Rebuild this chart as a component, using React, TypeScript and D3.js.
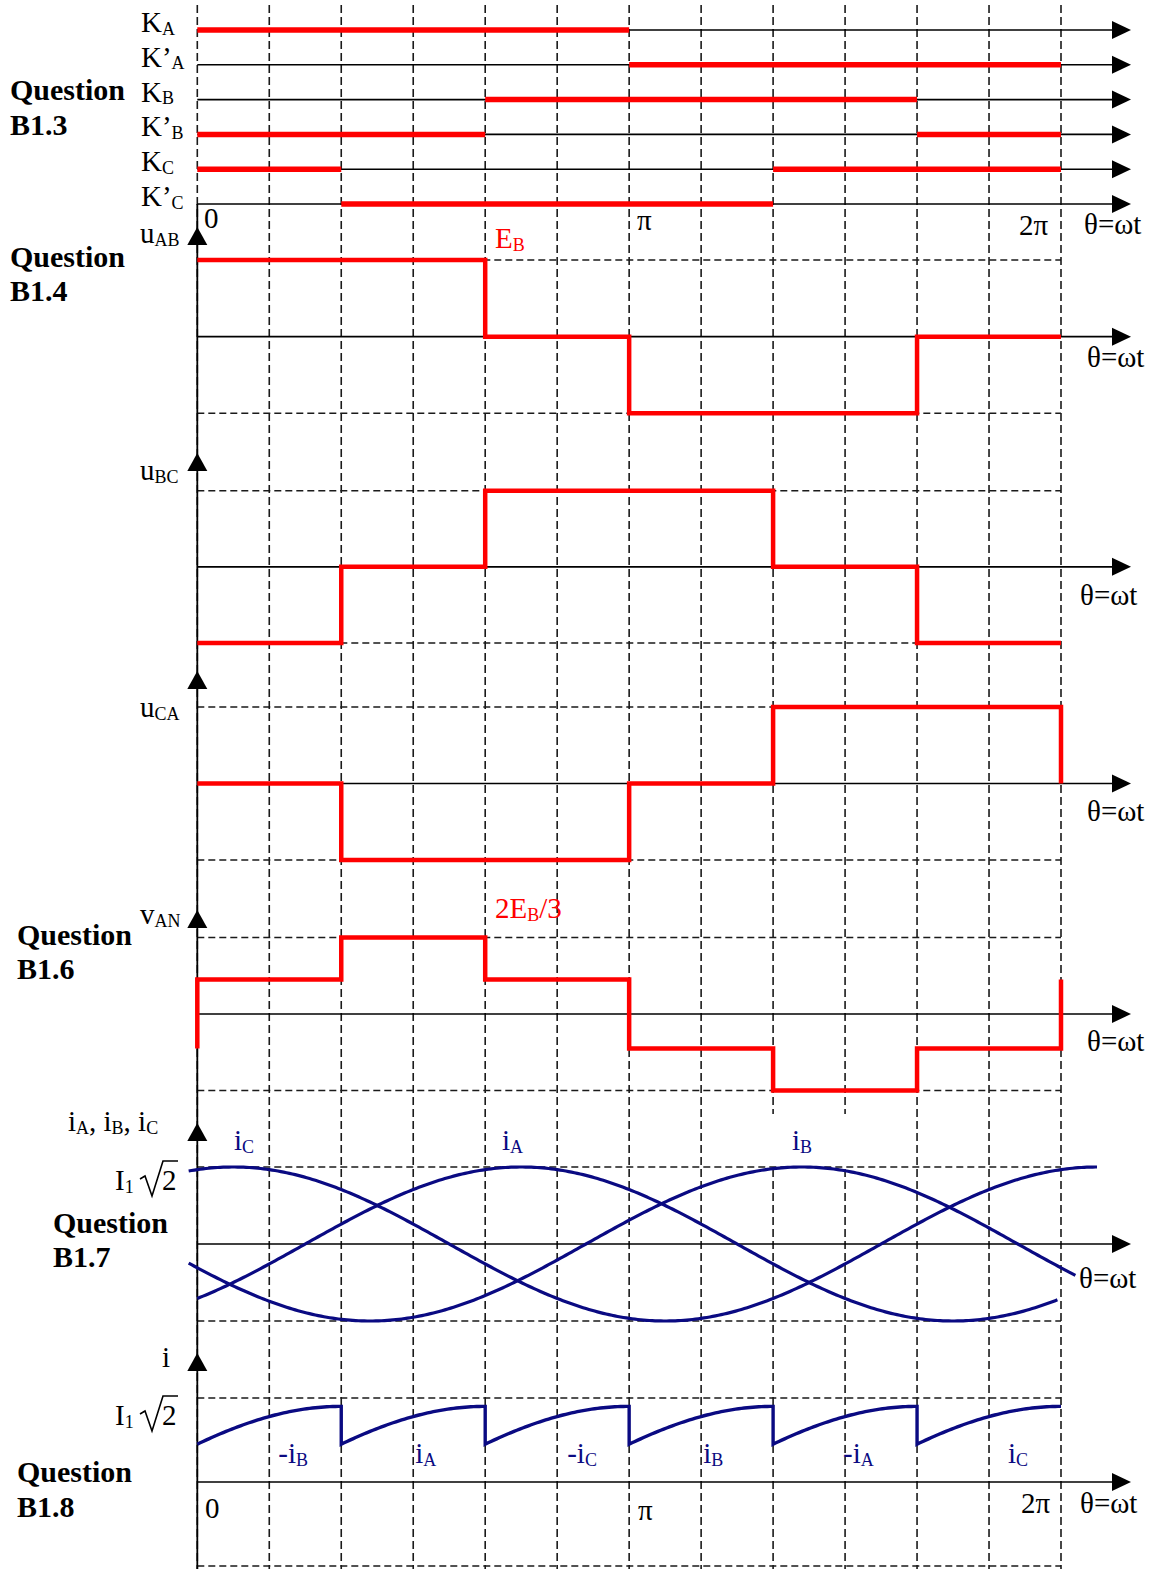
import React from "react";
import * as d3 from "d3";

const W = 1155;
const H = 1569;
const FONT = '"Liberation Serif", "Times New Roman", Times, serif';
const RED = "#ff0000";
const NAVY = "#0a0a82";
const INK = "#000";
const TXT = 29;
const QTXT = 30;

// one period split into 12 steps of π/6
const gridSteps = d3.range(0, 13);

// switch conduction intervals, in units of π/6
const switchLabels: [string, string][] = [
  ["K", "A"], ["K’", "A"], ["K", "B"], ["K’", "B"], ["K", "C"], ["K’", "C"],
];
const switchOn: number[][][] = [
  [[0, 6]],
  [[6, 12]],
  [[4, 10]],
  [[0, 4], [10, 12]],
  [[0, 2], [8, 12]],
  [[2, 8]],
];

// six 60° sectors (start, in π/6 units) and the levels of each voltage
const sectorStart = [0, 2, 4, 6, 8, 10];
const uABLevels = [1, 1, 0, -1, -1, 0]; // × E_B
const uBCLevels = [-1, 0, 1, 1, 0, -1]; // × E_B
const uCALevels = [0, -1, -1, 0, 1, 1]; // × E_B
const vANLevels = [0.3, 2 / 3, 0.3, -0.3, -2 / 3, -0.3]; // × E_B

// phase currents: angle of the positive peak (degrees) and drawn span (π/6 units)
const currentPhases = ["A", "B", "C"];
const currentPeakDeg = [135, 252, 15];
const currentSpan: [number, number][] = [[0, 11.95], [-0.12, 12.2], [-0.12, 12.5]];

// DC-side current: one piece per sector, the conducting phase and its sign
const dcPieceSign = ["-", "", "-", "", "-", ""];
const dcPiecePhase = ["B", "A", "C", "B", "A", "C"];
const dcPieceArcDeg: [number, number] = [30, 90];
const dcPeak = 0.9; // × I1√2

const x = d3.scaleLinear().domain([0, 12]).range([197.3, 1061]);
const AXIS_END = 1131;

type Part = [string, string?];

function Label({
  x: lx, y: ly, parts, size = TXT, fill = INK, weight = "normal",
}: { x: number; y: number; parts: Part[]; size?: number; fill?: string; weight?: string }) {
  const subDy = 2.5;
  return (
    <text x={lx} y={ly} fontSize={size} fill={fill} fontFamily={FONT} fontWeight={weight}>
      {parts.map(([m, s], i) => (
        <React.Fragment key={i}>
          <tspan dy={i > 0 && parts[i - 1][1] ? -subDy : 0}>{m}</tspan>
          {s ? (
            <tspan fontSize={size * 0.62} dy={subDy}>{s}</tspan>
          ) : null}
        </React.Fragment>
      ))}
    </text>
  );
}

function Root2({ x: rx, y: ry }: { x: number; y: number }) {
  const p = d3.path();
  p.moveTo(rx + 25, ry - 11);
  p.lineTo(rx + 30, ry - 14);
  p.lineTo(rx + 37, ry + 6);
  p.lineTo(rx + 48, ry - 29);
  p.lineTo(rx + 63, ry - 29);
  return (
    <g>
      <Label x={rx} y={ry} parts={[["I", "1"]]} />
      <path d={p.toString()} fill="none" stroke={INK} strokeWidth={1.6} />
      <text x={rx + 47} y={ry} fontSize={TXT} fontFamily={FONT}>2</text>
    </g>
  );
}

function HAxis({ y }: { y: number }) {
  return (
    <g>
      <line x1={x(0)} x2={AXIS_END - 16} y1={y} y2={y} stroke={INK} strokeWidth={1.6} />
      <path d={`M${AXIS_END},${y} L${AXIS_END - 19},${y - 9} L${AXIS_END - 19},${y + 9} Z`} fill={INK} />
    </g>
  );
}

function VArrow({ tip }: { tip: number }) {
  const cx = x(0);
  return <path d={`M${cx},${tip} L${cx - 10},${tip + 18} L${cx + 10},${tip + 18} Z`} fill={INK} />;
}

function DashH({ y }: { y: number }) {
  return (
    <line x1={x(0)} x2={x(12)} y1={y} y2={y} stroke="#1a1a1a" strokeWidth={1.6} strokeDasharray="7,4" />
  );
}

function stepPoints(levels: number[], wrapStart: boolean, wrapEnd: boolean): [number, number][] {
  const pts: [number, number][] = [];
  if (wrapStart) pts.push([0, levels[levels.length - 1]]);
  levels.forEach((v, i) => pts.push([sectorStart[i], v]));
  pts.push([12, levels[levels.length - 1]]);
  if (wrapEnd) pts.push([12, levels[0]]);
  return pts;
}

export default function App() {
  const rowY = d3.scalePoint<string>().domain(switchLabels.map((_, i) => String(i))).range([30, 204]);

  const yAB = d3.scaleLinear().domain([-1, 1]).range([413.3, 260]);
  const yBC = d3.scaleLinear().domain([-1, 1]).range([643, 490.7]);
  const yCA = d3.scaleLinear().domain([-1, 1]).range([860, 707]);
  const yAN = d3.scaleLinear().domain([-2 / 3, 2 / 3]).range([1090.5, 937.5]);
  const yI = d3.scaleLinear().domain([-1, 1]).range([1321, 1167]);
  const yDC = d3.scaleLinear().domain([0, 1]).range([1482, 1398]);

  const stepLine = (ys: d3.ScaleLinear<number, number>) =>
    d3.line<[number, number]>().x((d) => x(d[0])).y((d) => ys(d[1])).curve(d3.curveStepAfter);

  const smooth = (ys: d3.ScaleLinear<number, number>) =>
    d3.line<[number, number]>().x((d) => x(d[0])).y((d) => ys(d[1]));

  const voltagePanels = [
    { levels: uABLevels, ys: yAB, ws: false, we: false },
    { levels: uBCLevels, ys: yBC, ws: false, we: false },
    { levels: uCALevels, ys: yCA, ws: false, we: true },
    { levels: vANLevels, ys: yAN, ws: true, we: true },
  ];

  const currentPaths = currentPhases.map((_, k) => {
    const [a, b] = currentSpan[k];
    const pts: [number, number][] = d3
      .range(a, b, 0.04)
      .concat([b])
      .map((t) => [t, Math.cos(((t * 30 - currentPeakDeg[k]) * Math.PI) / 180)]);
    return smooth(yI)(pts) as string;
  });

  const dcPts: [number, number][] = [];
  sectorStart.forEach((s) => {
    d3.range(0, 2.0001, 0.04).forEach((u) => {
      const deg = dcPieceArcDeg[0] + (u / 2) * (dcPieceArcDeg[1] - dcPieceArcDeg[0]);
      dcPts.push([s + u, dcPeak * Math.sin((deg * Math.PI) / 180)]);
    });
  });

  const dcLabelNudge = [9, 2, 10, 2, -2, 19];
  const thetaParts: Part[] = [["θ=ωt"]];

  return (
    <svg
      width={W}
      height={H}
      viewBox={`0 0 ${W} ${H}`}
      style={{ position: "absolute", left: 0, top: 0, background: "#fff", display: "block" }}
    >
      <rect width={W} height={H} fill="#fff" />

      {/* vertical grid every π/6 */}
      {gridSteps.map((k) => (
        <line key={k} x1={x(k)} x2={x(k)} y1={5} y2={H} stroke="#1a1a1a" strokeWidth={1.6} strokeDasharray="8,4" />
      ))}
      <rect x={766} y={1114} width={84} height={51} fill="#fff" />

      {/* dashed level lines */}
      {[yAB, yBC, yCA].map((ys, i) => (
        <g key={i}>
          <DashH y={ys(1)} />
          <DashH y={ys(-1)} />
        </g>
      ))}
      <DashH y={yAN(2 / 3)} />
      <DashH y={yAN(-2 / 3)} />
      <DashH y={yI(1)} />
      <DashH y={yI(-1)} />
      <DashH y={yDC(1)} />
      <DashH y={1566} />

      {/* vertical axis */}
      <line x1={x(0)} x2={x(0)} y1={rowY("5")} y2={H} stroke={INK} strokeWidth={1.8} />
      {[227, 453, 671, 910, 1123, 1353].map((t) => (
        <VArrow key={t} tip={t} />
      ))}

      {/* switch states */}
      {switchLabels.map((lab, i) => {
        const y = rowY(String(i)) as number;
        return (
          <g key={i}>
            <HAxis y={y} />
            {switchOn[i].map(([a, b], j) => (
              <line key={j} x1={x(a)} x2={x(b)} y1={y} y2={y} stroke={RED} strokeWidth={5.5} />
            ))}
            <Label x={141} y={y + 2} parts={[[lab[0], lab[1]]]} />
          </g>
        );
      })}

      {/* voltage waveforms */}
      {voltagePanels.map((p, i) => (
        <g key={i}>
          <HAxis y={p.ys(0)} />
          <path
            d={stepLine(p.ys)(stepPoints(p.levels, p.ws, p.we)) as string}
            fill="none"
            stroke={RED}
            strokeWidth={4.5}
            strokeLinejoin="miter"
          />
        </g>
      ))}

      {/* phase currents */}
      <HAxis y={yI(0)} />
      {currentPaths.map((d, i) => (
        <path key={i} d={d} fill="none" stroke={NAVY} strokeWidth={3.2} />
      ))}

      {/* DC-side current */}
      <HAxis y={yDC(0)} />
      <path d={smooth(yDC)(dcPts) as string} fill="none" stroke={NAVY} strokeWidth={3.4} />

      {/* texts */}
      <Label x={10} y={100} parts={[["Question"]]} size={QTXT} weight="bold" />
      <Label x={10} y={135} parts={[["B1.3"]]} size={QTXT} weight="bold" />
      <Label x={204} y={228} parts={[["0"]]} />
      <Label x={637} y={230} parts={[["π"]]} />
      <Label x={1019} y={235} parts={[["2π"]]} />
      <Label x={1084} y={234} parts={thetaParts} />

      <Label x={140} y={243} parts={[["u", "AB"]]} />
      <Label x={495} y={248} parts={[["E", "B"]]} fill={RED} />
      <Label x={10} y={267} parts={[["Question"]]} size={QTXT} weight="bold" />
      <Label x={10} y={301} parts={[["B1.4"]]} size={QTXT} weight="bold" />
      <Label x={1087} y={367} parts={thetaParts} />

      <Label x={140} y={480} parts={[["u", "BC"]]} />
      <Label x={1080} y={605} parts={thetaParts} />

      <Label x={140} y={717} parts={[["u", "CA"]]} />
      <Label x={1087} y={821} parts={thetaParts} />

      <Label x={140} y={924} parts={[["v", "AN"]]} />
      <Label x={495} y={918} parts={[["2E", "B"], ["/3"]]} fill={RED} />
      <Label x={17} y={945} parts={[["Question"]]} size={QTXT} weight="bold" />
      <Label x={17} y={979} parts={[["B1.6"]]} size={QTXT} weight="bold" />
      <Label x={1087} y={1051} parts={thetaParts} />

      <Label x={68} y={1131} parts={[["i", "A"], [", i", "B"], [", i", "C"]]} />
      <Root2 x={115} y={1190} />
      <Label x={53} y={1233} parts={[["Question"]]} size={QTXT} weight="bold" />
      <Label x={53} y={1267} parts={[["B1.7"]]} size={QTXT} weight="bold" />
      <Label x={234} y={1150} parts={[["i", "C"]]} fill={NAVY} />
      <Label x={502} y={1150} parts={[["i", "A"]]} fill={NAVY} />
      <Label x={792} y={1150} parts={[["i", "B"]]} fill={NAVY} />
      <Label x={1079} y={1288} parts={thetaParts} />

      <Label x={162} y={1367} parts={[["i"]]} />
      <Root2 x={115} y={1425} />
      {sectorStart.map((s, k) => (
        <Label
          key={k}
          x={x(s + 1) + dcLabelNudge[k]}
          y={1463}
          parts={[[dcPieceSign[k] + "i", dcPiecePhase[k]]]}
          fill={NAVY}
        />
      ))}
      <Label x={17} y={1482} parts={[["Question"]]} size={QTXT} weight="bold" />
      <Label x={17} y={1517} parts={[["B1.8"]]} size={QTXT} weight="bold" />
      <Label x={205} y={1518} parts={[["0"]]} />
      <Label x={638} y={1520} parts={[["π"]]} />
      <Label x={1021} y={1513} parts={[["2π"]]} />
      <Label x={1080} y={1513} parts={thetaParts} />
    </svg>
  );
}
